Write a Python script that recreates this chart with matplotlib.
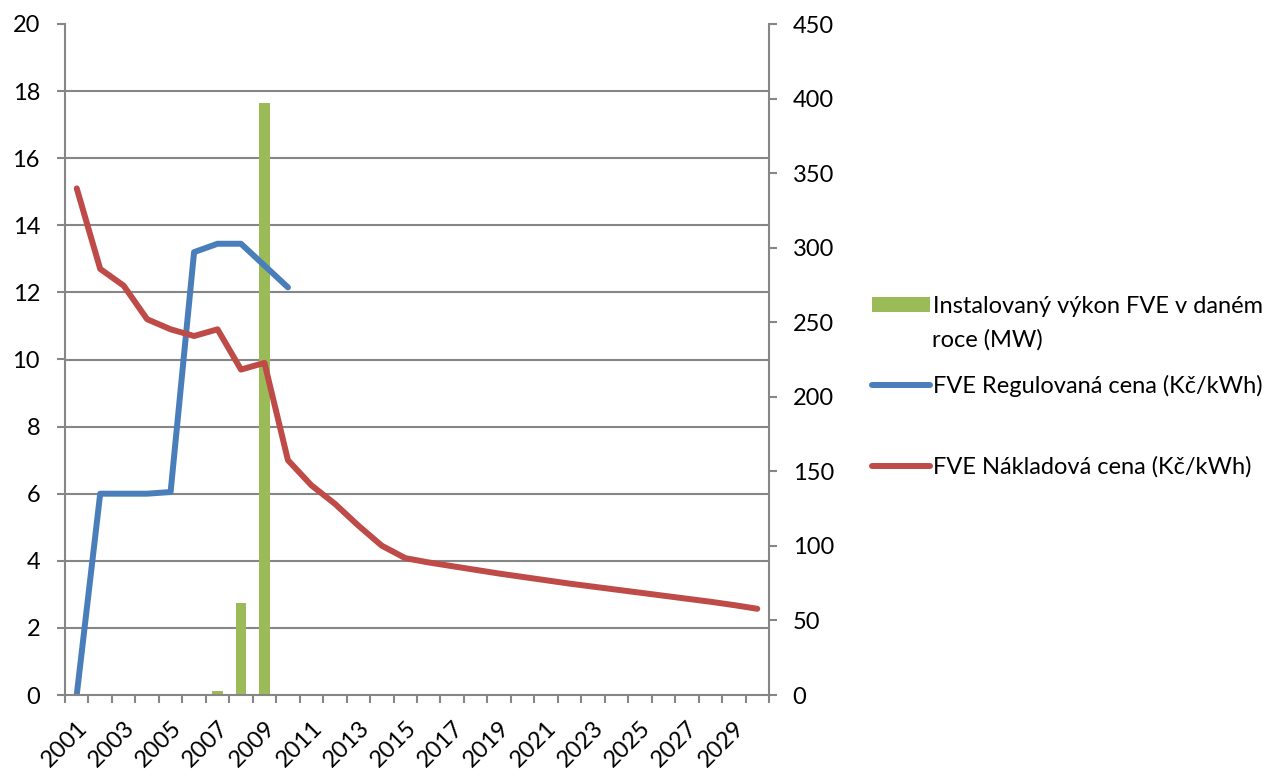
import numpy as np
import matplotlib
matplotlib.use("Agg")
import matplotlib.pyplot as plt
from matplotlib.lines import Line2D
from matplotlib.patches import Patch

plt.rcParams['font.family'] = ['Lato', 'DejaVu Sans']

years = list(range(2001, 2031))

# installed PV power in the year (MW), right axis
installed_mw = [0, 0, 0, 0, 0, 0, 3, 62, 397, 0, 0, 0, 0, 0, 0,
                0, 0, 0, 0, 0, 0, 0, 0, 0, 0, 0, 0, 0, 0, 0]

# regulated price (Kc/kWh), only up to 2010
regulated_price = [0.0, 6.0, 6.0, 6.0, 6.05, 13.2, 13.45, 13.45, 12.8, 12.15]

# cost price (Kc/kWh)
cost_price = [15.1, 12.7, 12.2, 11.2, 10.9, 10.7, 10.9, 9.7, 9.9, 7.0,
              6.25, 5.7, 5.05, 4.45, 4.08, 3.95, 3.84, 3.73, 3.62, 3.52,
              3.42, 3.32, 3.23, 3.14, 3.05, 2.96, 2.87, 2.78, 2.68, 2.57]

label_bar = ["Instalovaný výkon FVE v daném", "roce (MW)"]
label_reg = "FVE Regulovaná cena (Kč/kWh)"
label_cost = "FVE Nákladová cena (Kč/kWh)"

green = "#9bbb59"
blue = "#4a7ebb"
red = "#be4b48"
gray = "#868686"
fs = 17

fig = plt.figure(figsize=(12.78, 7.79), dpi=100)
ax = fig.add_axes([65 / 1278, 84 / 779, 704 / 1278, 671 / 779])
ax2 = ax.twinx()

x = np.arange(len(years))

# bars on the right axis, drawn underneath the lines
ax2.bar(x, installed_mw, width=0.43, color=green, zorder=2)
ax2.set_ylim(0, 450)
ax2.set_yticks(np.arange(0, 451, 50))
# gridlines follow the left axis ticks
ax2.set_yticks(np.arange(0, 21, 2) * 450 / 20, minor=True)
ax2.grid(which='minor', axis='y', color=gray, linewidth=1.5, zorder=0)
ax2.tick_params(which='minor', length=0)

ax.plot(x[:len(regulated_price)], regulated_price, color=blue, lw=4.3,
        solid_capstyle='round', solid_joinstyle='round')
ax.plot(x, cost_price, color=red, lw=4.3,
        solid_capstyle='round', solid_joinstyle='round')
ax.set_ylim(0, 20)
ax.set_yticks(np.arange(0, 21, 2))
ax.set_xlim(-0.5, len(years) - 0.5)

ax.set_zorder(ax2.get_zorder() + 1)
ax.patch.set_visible(False)

# category boundary ticks, labels every other year
ax.set_xticks(np.arange(-0.5, len(years), 1))
ax.set_xticklabels([])
ax.set_xticks(x[::2], minor=True)
ax.set_xticklabels([str(y) for y in years[::2]], minor=True, rotation=45,
                   ha='right', rotation_mode='anchor', fontsize=fs)
ax.tick_params(axis='x', which='minor', length=0, pad=16)
ax.tick_params(axis='x', which='major', length=6, width=1.5, color=gray)

ax.tick_params(axis='y', length=6, width=1.5, color=gray, labelsize=fs, pad=12)
ax2.tick_params(axis='y', which='major', length=6, width=1.5, color=gray,
                labelsize=fs, pad=11)

for a in (ax, ax2):
    for s in a.spines.values():
        s.set_visible(False)
ax.spines['left'].set_visible(True)
ax.spines['bottom'].set_visible(True)
ax2.spines['right'].set_visible(True)
for s in (ax.spines['left'], ax.spines['bottom'], ax2.spines['right']):
    s.set_color(gray)
    s.set_linewidth(1.5)

# legend entries placed separately, like in the original
entries = [
    (Patch(facecolor=green), label_bar[0], 0.6065),
    (Line2D([], [], color=blue, lw=4.3, solid_capstyle='round'), label_reg, 0.5045),
    (Line2D([], [], color=red, lw=4.3, solid_capstyle='round'), label_cost, 0.4005),
]
for handle, lab, yy in entries:
    fig.legend([handle], [lab], loc='center left', bbox_to_anchor=(872 / 1278, yy),
               frameon=False, fontsize=fs, handlelength=2.45, handleheight=0.6,
               handletextpad=0.12, borderpad=0, borderaxespad=0)
# second line of the bar label
fig.text(932 / 1278, (779 - 340) / 779, label_bar[1], fontsize=fs, va='center')

fig.savefig("out.png", dpi=100)
